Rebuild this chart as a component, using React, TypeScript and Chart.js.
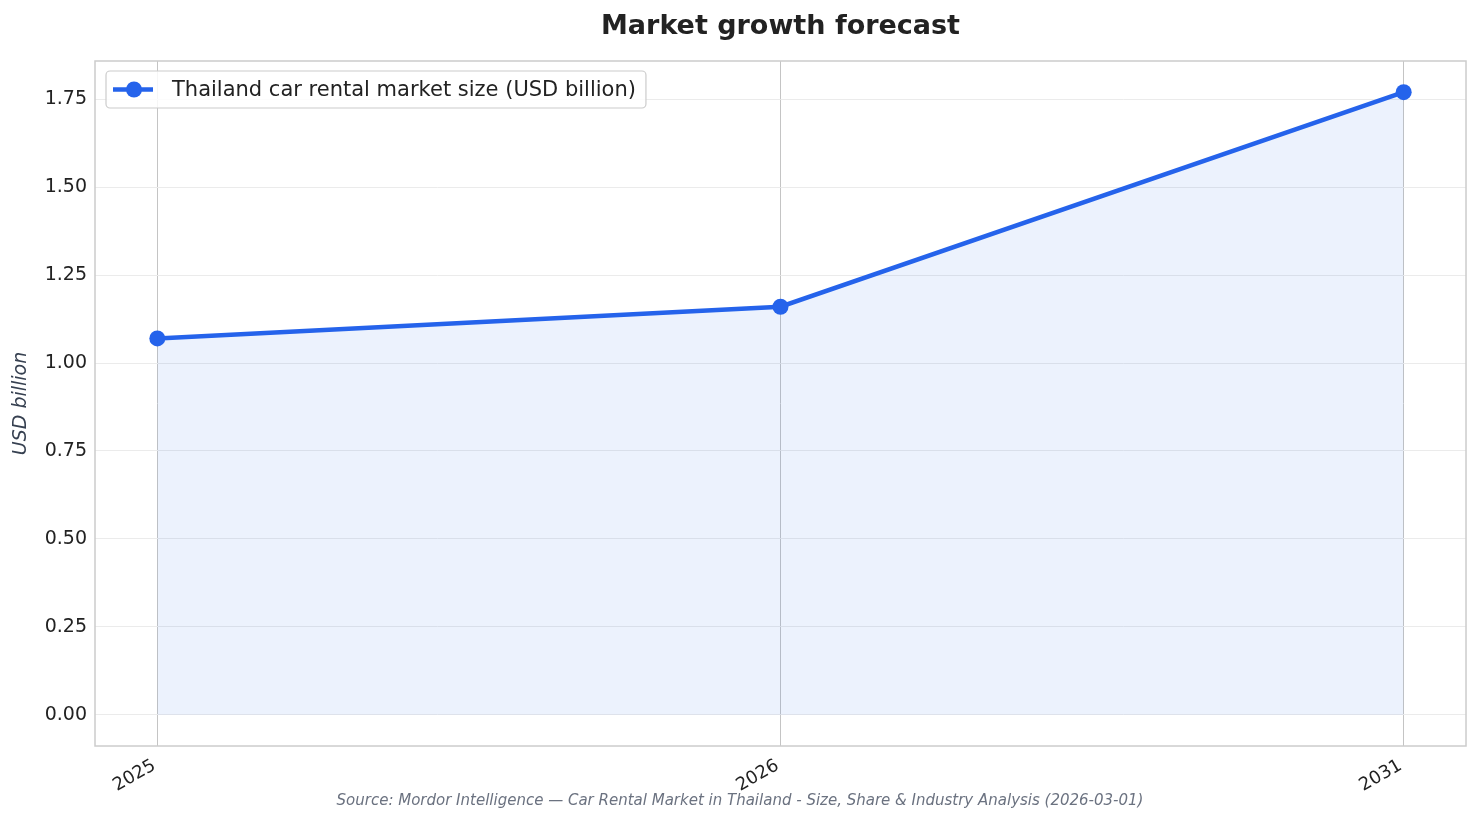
import { useEffect, useRef } from 'react';
import { Chart, ChartConfiguration, registerables } from 'chart.js';

Chart.register(...registerables);

const years = ['2025', '2026', '2031'];
const marketSize = [1.07, 1.16, 1.77];
const yTicks = [0, 0.25, 0.5, 0.75, 1.0, 1.25, 1.5, 1.75];

const seriesLabel = 'Thailand car rental market size (USD billion)';
const chartTitle = 'Market growth forecast';
const sourceText =
    'Source: Mordor Intelligence \u2014 Car Rental Market in Thailand - Size, Share & Industry Analysis (2026-03-01)';

const FONT = '"DejaVu Sans", sans-serif';
const BLUE = '#2563eb';

// title, source, frame and in-plot legend
const decorPlugin = {
    id: 'decor',
    afterDraw(chart: Chart) {
        const { ctx, chartArea } = chart;
        const { left, top, right, bottom } = chartArea;
        ctx.save();

        // axes frame
        ctx.strokeStyle = '#cccccc';
        ctx.lineWidth = 1.5;
        ctx.strokeRect(left, top, right - left, bottom - top);

        // title
        ctx.fillStyle = '#222222';
        ctx.font = `bold 27px ${FONT}`;
        ctx.textAlign = 'center';
        ctx.textBaseline = 'middle';
        ctx.fillText(chartTitle, (left + right) / 2, 27);

        // source
        ctx.fillStyle = '#6b7280';
        ctx.font = `italic 15px ${FONT}`;
        ctx.fillText(sourceText, chart.width / 2 - 1, 801);

        // legend
        ctx.font = `21px ${FONT}`;
        const textW = ctx.measureText(seriesLabel).width;
        const bx = left + 11;
        const by = top + 10;
        const bw = 66 + textW + 10;
        const bh = 37;
        ctx.fillStyle = 'rgba(255,255,255,0.85)';
        ctx.strokeStyle = '#cccccc';
        ctx.lineWidth = 1.2;
        ctx.beginPath();
        ctx.roundRect(bx, by, bw, bh, 4);
        ctx.fill();
        ctx.stroke();
        const cy = by + bh / 2;
        ctx.strokeStyle = BLUE;
        ctx.lineWidth = 4.5;
        ctx.beginPath();
        ctx.moveTo(bx + 7, cy);
        ctx.lineTo(bx + 47, cy);
        ctx.stroke();
        ctx.fillStyle = BLUE;
        ctx.beginPath();
        ctx.arc(bx + 28, cy, 8, 0, Math.PI * 2);
        ctx.fill();
        ctx.fillStyle = '#222222';
        ctx.textAlign = 'left';
        ctx.fillText(seriesLabel, bx + 66, cy + 1);

        ctx.restore();
    },
};

const App = () => {
    const chartRef = useRef<HTMLCanvasElement | null>(null);
    const chartInstance = useRef<Chart | null>(null);

    useEffect(() => {
        document.body.style.margin = '0';
        if (!chartRef.current) return;
        const ctx = chartRef.current.getContext('2d');
        if (!ctx) return;

        const config: ChartConfiguration = {
            type: 'line',
            data: {
                datasets: [
                    {
                        label: seriesLabel,
                        data: marketSize.map((v, i) => ({ x: i, y: v })),
                        borderColor: BLUE,
                        backgroundColor: 'rgba(37,99,235,0.085)',
                        borderWidth: 4.5,
                        fill: 'origin',
                        pointRadius: 8,
                        pointBorderWidth: 0,
                        pointBackgroundColor: BLUE,
                        tension: 0,
                    },
                ],
            },
            options: {
                animation: false,
                responsive: false,
                devicePixelRatio: 1,
                layout: { padding: { top: 61, right: 16, left: 0, bottom: 0 } },
                plugins: {
                    legend: { display: false },
                    title: { display: false },
                    tooltip: { enabled: false },
                },
                scales: {
                    x: {
                        type: 'linear',
                        min: -0.1,
                        max: 2.1,
                        afterBuildTicks: (scale: any) => {
                            scale.ticks = years.map((_, i) => ({ value: i }));
                        },
                        afterFit: (scale: any) => {
                            scale.height = 78;
                        },
                        ticks: {
                            callback: (v: any) => years[Math.round(Number(v))] ?? '',
                            minRotation: 30,
                            maxRotation: 30,
                            padding: 9,
                            labelOffset: -3,
                            color: '#222222',
                            font: { family: FONT, size: 18 },
                        },
                        grid: { color: '#c4c4c4', lineWidth: 1, drawTicks: false },
                        border: { display: false },
                    },
                    y: {
                        type: 'linear',
                        min: -0.0885,
                        max: 1.8585,
                        afterBuildTicks: (scale: any) => {
                            scale.ticks = yTicks.map((v) => ({ value: v }));
                        },
                        afterFit: (scale: any) => {
                            scale.width = 95;
                        },
                        ticks: {
                            callback: (v: any) => Number(v).toFixed(2),
                            padding: 8,
                            color: '#222222',
                            font: { family: FONT, size: 19 },
                        },
                        grid: { color: '#ebebeb', lineWidth: 1, drawTicks: false },
                        border: { display: false },
                        title: {
                            display: true,
                            text: 'USD billion',
                            color: '#374151',
                            padding: { top: 10, bottom: 0 },
                            font: { family: FONT, size: 19, style: 'italic' },
                        },
                    },
                },
            },
            plugins: [decorPlugin],
        };

        chartInstance.current = new Chart(ctx, config);

        return () => {
            if (chartInstance.current) {
                chartInstance.current.destroy();
                chartInstance.current = null;
            }
        };
    }, []);

    return (
        <div style={{ position: 'absolute', left: 0, top: 0, width: 1482, height: 824, background: '#fff' }}>
            <canvas ref={chartRef} width={1482} height={824} />
        </div>
    );
};

export default App;
